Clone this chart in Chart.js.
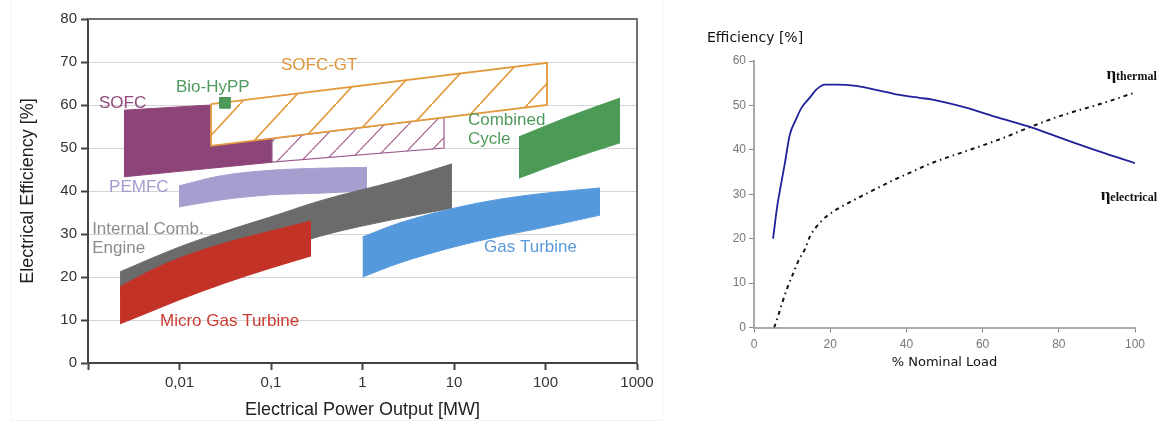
<!DOCTYPE html>
<html>
<head>
<meta charset="utf-8">
<script src="https://cdn.jsdelivr.net/npm/chart.js@4.4.1/dist/chart.umd.min.js"></script>
<style>
  html, body { margin: 0; padding: 0; background: #fff; }
  body { width: 1162px; height: 423px; position: relative; overflow: hidden; }
  #frame { position: absolute; left: 11px; top: -1px; width: 652px; height: 422px; border: 1px solid #f3f3f3; box-sizing: border-box; }
  #left { position: absolute; left: 0; top: 0; width: 665px; height: 423px; }
  #right { position: absolute; left: 665px; top: 0; width: 497px; height: 423px; }
</style>
</head>
<body>
<div id="frame"></div>
<div id="left"><canvas id="techChart"></canvas></div>
<div id="right"><canvas id="loadChart"></canvas></div>
<script>
// ---- left chart: electrical efficiency [%] vs power output [MW] (log) ----
const powerTicks = [0.001, 0.01, 0.1, 1, 10, 100, 1000];

const pemfcMW = [0.00988, 0.0277, 0.0975, 0.343, 1.12];
const pemfcTop = [41.2, 43.5, 44.8, 45.3, 45.5];
const pemfcBottom = [36.3, 37.9, 39.1, 39.5, 40.0];

const sofcMW = [0.00247, 0.0221, 0.0221, 0.1025, 0.1025, 0.00247];
const sofcEff = [58.8, 60.0, 50.5, 52.2, 46.7, 43.3];

const sofcHatchMW = [0.1025, 7.78, 7.78, 0.1025, 0.1025];
const sofcHatchEff = [52.2, 57.1, 50.0, 46.7, 52.2];

const sofcGtMW = [0.0221, 104, 104, 0.0221, 0.0221];
const sofcGtEff = [60.2, 69.8, 60.0, 50.5, 60.2];

const bioHyppMW = [0.0314];
const bioHyppEff = [60.5];

const iceMW = [0.00224, 0.00476, 0.01, 0.0215, 0.1, 0.343, 2.57, 9.5];
const iceTop = [21.2, 24.2, 27.0, 29.5, 34.0, 37.7, 42.6, 46.3];
const iceBottom = [17.0, 18.6, 20.2, 22.1, 25.8, 29.5, 33.7, 36.0];

const mgtMW = [0.00224, 0.00476, 0.01, 0.0314, 0.1, 0.274];
const mgtTop = [17.7, 21.4, 24.4, 27.9, 30.7, 33.0];
const mgtBottom = [9.1, 11.9, 14.7, 18.6, 22.1, 24.9];

const gtMW = [1.0, 2.57, 10, 31.8, 100, 394];
const gtTop = [29.3, 32.6, 36.0, 38.1, 39.5, 40.7];
const gtBottom = [20.0, 23.3, 27.0, 29.5, 31.6, 34.4];

const ccMW = [51.3, 185, 652];
const ccTop = [52.6, 57.4, 61.6];
const ccBottom = [43.0, 47.4, 51.2];

// text labels, anchored at their left edge
const techLabels = [
  {text: 'SOFC', mw: 0.00132, eff: 60.5, color: '#8f4a7d'},
  {text: 'Bio-HyPP', mw: 0.00915, eff: 64.0, color: '#4f9a5f'},
  {text: 'SOFC-GT', mw: 0.1285, eff: 69.3, color: '#e0953a'},
  {text: 'Combined', mw: 14.2, eff: 56.5, color: '#4f9a5a'},
  {text: 'Cycle', mw: 14.2, eff: 52.1, color: '#4f9a5a'},
  {text: 'PEMFC', mw: 0.0017, eff: 40.9, color: '#a29cd0'},
  {text: 'Internal Comb.', mw: 0.00111, eff: 31.2, color: '#8c8c8c'},
  {text: 'Engine', mw: 0.00111, eff: 26.7, color: '#8c8c8c'},
  {text: 'Micro Gas Turbine', mw: 0.00612, eff: 9.8, color: '#cc3b33'},
  {text: 'Gas Turbine', mw: 21.3, eff: 27.0, color: '#5a9ad8'}
];

// ---- right chart: efficiency vs % nominal load ----
const solidLoad = [5.0, 6.1, 7.0, 8.1, 9.4, 11.0, 12.5, 14.6, 16.4, 18.6, 21.6, 26.8, 32.0, 37.3, 43.4, 46.9, 55.6, 64.3, 73.0, 81.7, 90.4, 100];
const solidEff = [20.0, 27.3, 31.8, 37.0, 43.4, 46.8, 49.5, 51.7, 53.6, 54.7, 54.7, 54.4, 53.5, 52.5, 51.7, 51.3, 49.5, 47.2, 45.0, 42.3, 39.7, 37.0];

const dashedLoad = [5.3, 6.4, 7.5, 8.7, 10.3, 11.6, 13.4, 14.8, 16.5, 19.0, 21.9, 25.1, 30.8, 36.9, 40.8, 46.9, 55.6, 64.3, 73.0, 81.7, 90.4, 100];
const dashedEff = [0.0, 2.8, 5.8, 8.8, 12.2, 14.9, 17.7, 20.7, 22.8, 25.0, 26.7, 28.2, 30.7, 33.3, 34.8, 37.1, 39.7, 42.3, 45.3, 48.0, 50.2, 52.9];

const etaLabels = [
  {sub: 'thermal', load: 92.5, eff: 55.9},
  {sub: 'electrical', load: 91.0, eff: 28.6}
];

function poly(xs, ys) {
  return xs.map((x, i) => ({x: x, y: ys[i]}));
}
function hatch(color, w, h, lw) {
  const c = document.createElement('canvas');
  c.width = w; c.height = h;
  const g = c.getContext('2d');
  g.fillStyle = '#fff';
  g.fillRect(0, 0, w, h);
  g.strokeStyle = color;
  g.lineWidth = lw;
  g.beginPath();
  g.moveTo(-w, 2 * h); g.lineTo(2 * w, -h);
  g.stroke();
  return g.createPattern(c, 'repeat');
}
// a smooth band = upper edge filled down to the lower edge (next dataset)
function band(label, xs, top, bottom, color) {
  const common = {backgroundColor: color, borderColor: color, borderWidth: 1, pointRadius: 0,
                  cubicInterpolationMode: 'monotone'};
  return [
    Object.assign({label: label, data: poly(xs, top), fill: '+1'}, common),
    Object.assign({label: label + ' low', data: poly(xs, bottom), fill: false}, common)
  ];
}

const FONT = '"Liberation Sans", Arial, sans-serif';

const frameLines = {
  id: 'frameLines',
  afterDraw(chart) {
    const {ctx, chartArea: a} = chart;
    ctx.save();
    ctx.strokeStyle = '#707070';
    ctx.lineWidth = 2;
    ctx.beginPath();
    ctx.moveTo(a.left, a.top);
    ctx.lineTo(a.right, a.top);
    ctx.lineTo(a.right, a.bottom);
    ctx.stroke();
    ctx.restore();
  }
};

const techText = {
  id: 'techText',
  afterDatasetsDraw(chart) {
    const {ctx, scales: {x, y}} = chart;
    ctx.save();
    ctx.font = '17px ' + FONT;
    ctx.textBaseline = 'middle';
    ctx.textAlign = 'left';
    techLabels.forEach(l => {
      ctx.fillStyle = l.color;
      ctx.fillText(l.text, x.getPixelForValue(l.mw), y.getPixelForValue(l.eff));
    });
    ctx.restore();
  }
};

new Chart(document.getElementById('techChart'), {
  type: 'line',
  data: {
    datasets: [
      {label: 'Bio-HyPP', data: poly(bioHyppMW, bioHyppEff), showLine: false, pointStyle: 'rect',
       pointRadius: 7.5, backgroundColor: '#4e9a5a', borderColor: '#3f8a4c', borderWidth: 1},
      ...band('Combined Cycle', ccMW, ccTop, ccBottom, '#4b9a55'),
      ...band('Gas Turbine', gtMW, gtTop, gtBottom, '#5499dc'),
      ...band('Micro Gas Turbine', mgtMW, mgtTop, mgtBottom, '#c33226'),
      ...band('Internal Comb. Engine', iceMW, iceTop, iceBottom, '#6b6b6b'),
      {label: 'SOFC-GT', data: poly(sofcGtMW, sofcGtEff), fill: 'shape', backgroundColor: hatch('#e39a3c', 48, 52, 1.6),
       borderColor: '#e39a3c', borderWidth: 1.8, pointRadius: 0, tension: 0},
      {label: 'SOFC hatched', data: poly(sofcHatchMW, sofcHatchEff), fill: 'shape', backgroundColor: hatch('#9a5a8c', 24, 25, 1.2),
       borderColor: '#9a5a8c', borderWidth: 1.2, pointRadius: 0, tension: 0},
      {label: 'SOFC', data: poly(sofcMW, sofcEff), fill: 'shape', backgroundColor: '#8d4579',
       borderColor: '#8d4579', borderWidth: 1, pointRadius: 0, tension: 0},
      ...band('PEMFC', pemfcMW, pemfcTop, pemfcBottom, '#a59fd0')
    ]
  },
  options: {
    responsive: true,
    maintainAspectRatio: false,
    animation: false,
    events: [],
    layout: {padding: {left: 0, right: 28, top: 19, bottom: 0}},
    plugins: {legend: {display: false}, tooltip: {enabled: false}},
    scales: {
      x: {
        type: 'logarithmic',
        min: 0.001,
        max: 1000,
        afterBuildTicks: s => { s.ticks = powerTicks.map(v => ({value: v})); },
        afterFit: s => { s.height = 60; },
        ticks: {
          callback: v => v === 0.001 ? '' : String(v).replace('.', ','),
          color: '#333', font: {family: FONT, size: 15}, padding: 4, maxRotation: 0, autoSkip: false
        },
        grid: {drawOnChartArea: false, tickLength: 7, tickColor: '#444', tickWidth: 2},
        border: {color: '#444', width: 2},
        title: {display: true, text: 'Electrical Power Output [MW]', color: '#222',
                font: {family: FONT, size: 18}, padding: {top: 0, bottom: 2}}
      },
      y: {
        min: 0,
        max: 80,
        afterFit: s => { s.width = 88; },
        ticks: {stepSize: 10, color: '#333', font: {family: FONT, size: 15}, padding: 4},
        grid: {color: '#d6d6d6', lineWidth: 1, tickLength: 7, tickColor: '#444', tickWidth: 2},
        border: {color: '#444', width: 2},
        title: {display: true, text: 'Electrical Efficiency [%]', color: '#222',
                font: {family: FONT, size: 18}, padding: {top: 17, bottom: 0}}
      }
    }
  },
  plugins: [frameLines, techText]
});

const loadText = {
  id: 'loadText',
  afterDraw(chart) {
    const {ctx, chartArea: a, scales: {x, y}} = chart;
    ctx.save();
    ctx.fillStyle = '#111';
    ctx.textAlign = 'left';
    ctx.textBaseline = 'middle';
    ctx.font = '14px "DejaVu Sans", sans-serif';
    ctx.fillText('Efficiency [%]', a.left - 47, a.top - 23);
    ctx.textBaseline = 'alphabetic';
    etaLabels.forEach(l => {
      const px = x.getPixelForValue(l.load);
      const py = y.getPixelForValue(l.eff);
      ctx.font = 'bold 17px "Liberation Serif", serif';
      ctx.fillText('η', px, py);
      const w = ctx.measureText('η').width;
      ctx.font = 'bold 12px "Liberation Serif", serif';
      ctx.fillText(l.sub, px + w, py + 1);
    });
    ctx.restore();
  }
};

const tickFont = {family: FONT, size: 12};

new Chart(document.getElementById('loadChart'), {
  type: 'line',
  data: {
    datasets: [
      {label: 'solid', data: poly(solidLoad, solidEff), borderColor: '#20209a', borderWidth: 1.8,
       pointRadius: 0, fill: false, cubicInterpolationMode: 'monotone'},
      {label: 'dashed', data: poly(dashedLoad, dashedEff), borderColor: '#111', borderWidth: 2,
       borderDash: [4, 4, 1.5, 4], pointRadius: 0, fill: false, cubicInterpolationMode: 'monotone'}
    ]
  },
  options: {
    responsive: true,
    maintainAspectRatio: false,
    animation: false,
    events: [],
    layout: {padding: {left: 0, right: 27, top: 61, bottom: 0}},
    plugins: {legend: {display: false}, tooltip: {enabled: false}},
    scales: {
      x: {
        type: 'linear',
        min: 0,
        max: 100,
        afterFit: s => { s.height = 95.5; },
        ticks: {stepSize: 20, color: '#777', font: tickFont, padding: 5, maxRotation: 0},
        grid: {drawOnChartArea: false, tickLength: 5, tickColor: '#888'},
        border: {color: '#aaa', width: 2},
        title: {display: true, text: '% Nominal Load', color: '#111',
                font: {family: '"DejaVu Sans", sans-serif', size: 13}, padding: {top: 0, bottom: 53}}
      },
      y: {
        min: 0,
        max: 60,
        afterFit: s => { s.width = 89; },
        ticks: {stepSize: 10, color: '#777', font: tickFont, padding: 3},
        grid: {drawOnChartArea: false, tickLength: 5, tickColor: '#888'},
        border: {color: '#aaa', width: 2}
      }
    }
  },
  plugins: [loadText]
});
</script>
</body>
</html>
